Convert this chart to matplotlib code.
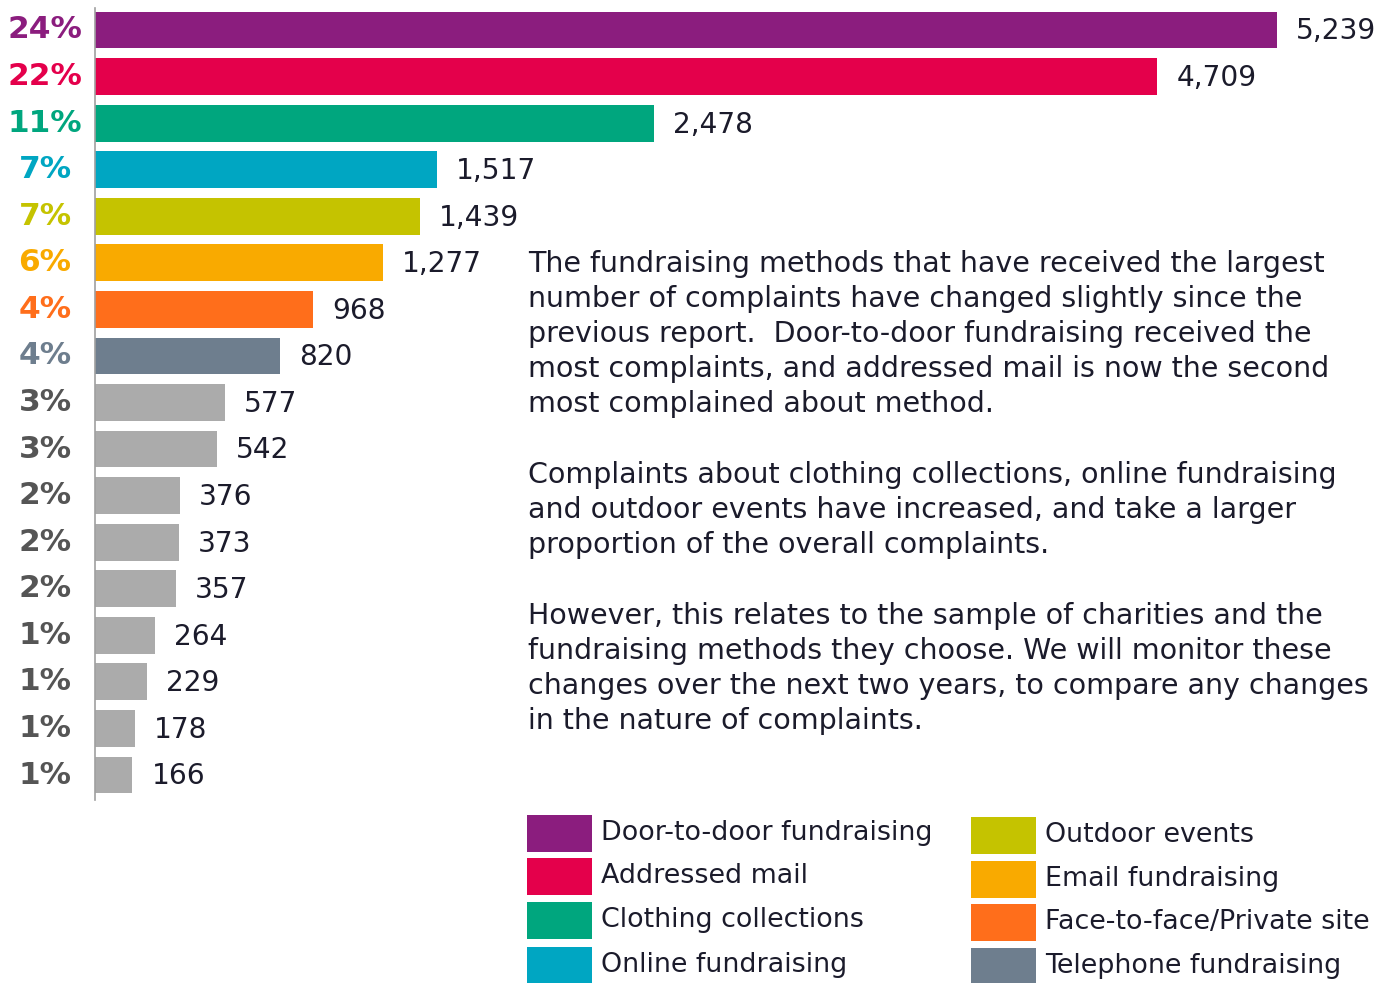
import matplotlib
matplotlib.use("Agg")
import matplotlib.pyplot as plt
from matplotlib.patches import Rectangle
import matplotlib.transforms as mtransforms

values = [5239, 4709, 2478, 1517, 1439, 1277, 968, 820, 577, 542, 376, 373, 357, 264, 229, 178, 166]
percents = ["24%", "22%", "11%", "7%", "7%", "6%", "4%", "4%", "3%", "3%", "2%", "2%", "2%", "1%", "1%", "1%", "1%"]
legend_names = ["Door-to-door fundraising", "Addressed mail", "Clothing collections", "Online fundraising",
                "Outdoor events", "Email fundraising", "Face-to-face/Private site", "Telephone fundraising"]
named_colors = ["#8B1D7E", "#E4004B", "#00A67E", "#00A6C2", "#C5C300", "#F9AA00", "#FF6E1B", "#6E7E8E"]
grey_bar = "#ABABAB"
grey_text = "#555555"

paragraphs = [
    ["The fundraising methods that have received the largest",
     "number of complaints have changed slightly since the",
     "previous report.  Door-to-door fundraising received the",
     "most complaints, and addressed mail is now the second",
     "most complained about method."],
    ["Complaints about clothing collections, online fundraising",
     "and outdoor events have increased, and take a larger",
     "proportion of the overall complaints."],
    ["However, this relates to the sample of charities and the",
     "fundraising methods they choose. We will monitor these",
     "changes over the next two years, to compare any changes",
     "in the nature of complaints."],
]

FONT = "DejaVu Sans"
TEXT_COLOR = "#1B1B2B"
W, H = 1392, 983
fig = plt.figure(figsize=(W / 100, H / 100), dpi=100)
fig.patch.set_facecolor("white")

ax_left, ax_top, ax_bottom = 95, 8, 800
ax = fig.add_axes([ax_left / W, (H - ax_bottom) / H, (W - ax_left) / W, (ax_bottom - ax_top) / H])
n = len(values)
bar_colors = named_colors + [grey_bar] * (n - len(named_colors))
pct_colors = named_colors + [grey_text] * (n - len(named_colors))
ypos = list(range(n))
ax.barh(ypos, values, height=0.79, color=bar_colors, edgecolor="none")
px_per_unit = (1277 - 95) / 5239
ax.set_xlim(0, (W - ax_left) / px_per_unit)
spacing = (775 - 30) / 16
ax.set_ylim((ax_bottom - 30) / spacing, -(30 - ax_top) / spacing)
for s in ["top", "right", "bottom"]:
    ax.spines[s].set_visible(False)
ax.spines["left"].set_color("#A0A0A0")
ax.spines["left"].set_linewidth(1.2)
ax.set_xticks([])
ax.set_yticks([])
ax.patch.set_alpha(0)

off = 19 / px_per_unit
for y, v in zip(ypos, values):
    ax.text(v + off, y + 0.03, f"{v:,}", ha="left", va="center", fontsize=20.2,
            family=FONT, color=TEXT_COLOR)

blend = mtransforms.blended_transform_factory(fig.transFigure, ax.transData)
for y, p, c in zip(ypos, percents, pct_colors):
    ax.text(45 / W, y, p, transform=blend, ha="center", va="center", fontsize=22.5,
            fontweight="bold", family=FONT, color=c)

# paragraphs
para_first = [264, 475, 616]
line_gap = 35
for first, lines in zip(para_first, paragraphs):
    for k, line in enumerate(lines):
        fig.text(528 / W, 1 - (first + k * line_gap) / H, line, ha="left", va="center",
                 fontsize=20.5, family=FONT, color=TEXT_COLOR)

# legend
col_x = [527, 971]
rows_y = [[833, 876, 920, 965], [835, 879, 922, 966]]
pw, ph = 65, 37
for i, (name, col) in enumerate(zip(legend_names, named_colors)):
    c = i // 4
    r = i % 4
    x0 = col_x[c]
    yc = rows_y[c][r]
    fig.patches.append(Rectangle((x0 / W, 1 - (yc + ph / 2) / H), pw / W, ph / H,
                                 transform=fig.transFigure, facecolor=col, edgecolor="none"))
    fig.text((x0 + pw + 9) / W, 1 - yc / H, name, ha="left", va="center", fontsize=19.4,
             family=FONT, color=TEXT_COLOR)

fig.savefig("out.png", dpi=100, facecolor="white")
